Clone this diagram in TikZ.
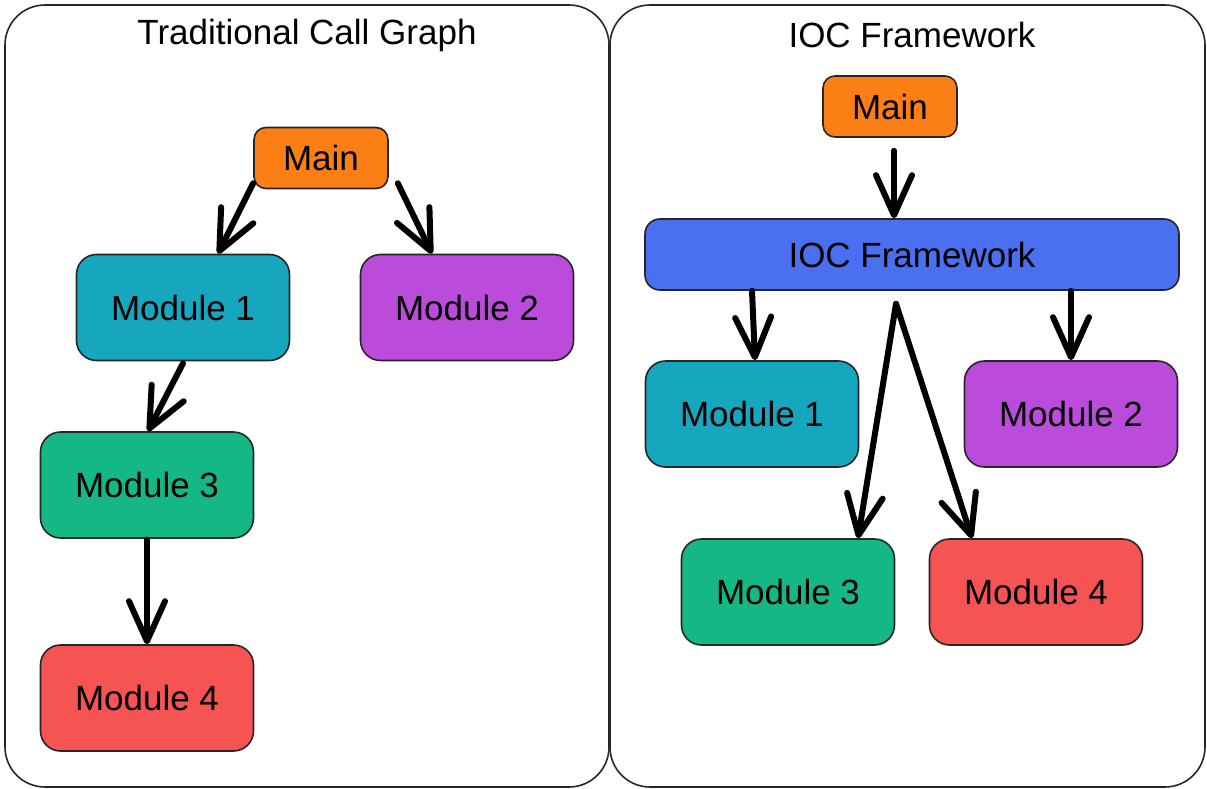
\documentclass[tikz,border=0pt]{standalone}
\usepackage{fontspec}
\setmainfont{Liberation Sans}
\usetikzlibrary{arrows.meta,calc}
\definecolor{cmain}{HTML}{FB7F15}
\definecolor{cmodA}{HTML}{16A7BF}
\definecolor{cmodB}{HTML}{BB4BDB}
\definecolor{cmodC}{HTML}{15B784}
\definecolor{cmodD}{HTML}{F65353}
\definecolor{cioc}{HTML}{4A6FF0}
\begin{document}
\begin{tikzpicture}[x=1pt,y=-1pt,
  panel/.style={draw=black!85,line width=1.6pt,rounded corners=40pt},
  box/.style={draw=black!85,line width=1.6pt,rounded corners=20pt,minimum width=213pt,minimum height=106pt,inner sep=0pt,font=\fontsize{35}{42}\selectfont},
  mainbox/.style={draw=black!85,line width=1.6pt,rounded corners=12pt,fill=cmain,minimum width=134pt,minimum height=61pt,inner sep=0pt,font=\fontsize{35}{42}\selectfont},
  ttl/.style={font=\fontsize{35}{42}\selectfont},
  arr/.style={line width=6pt,line cap=round,-{Straight Barb[length=40pt,width=36pt,line join=round,line cap=round]}}
]
\useasboundingbox (0,0) rectangle (1207,789);
\draw[panel] (5,5) rectangle (609,787);
\draw[panel] (610,5) rectangle (1205,787);
\node[ttl] (t1) at (307,35) {Traditional Call Graph};
\node[ttl] (t2) at (912,35) {IOC Framework};
% left
\node[mainbox] (lmain) at (321,158) {Main};
\node[box,fill=cmodA] (lm1) at (183,307.5) {Module 1};
\node[box,fill=cmodB] (lm2) at (467,307.5) {Module 2};
\node[box,fill=cmodC] (lm3) at (147,485) {Module 3};
\node[box,fill=cmodD] (lm4) at (147,698) {Module 4};
\draw[arr] ([yshift=6pt]lmain.south west) -- ([xshift=35pt]lm1.north);
\draw[arr] ([xshift=9pt,yshift=6pt]lmain.south east) -- ([xshift=-35pt]lm2.north);
\draw[arr] ([yshift=-2pt]lm1.south) -- ([xshift=1pt]lm3.north);
\draw[arr] ([yshift=-1pt]lm3.south) -- (lm4.north);
% right
\node[mainbox] (rmain) at (890,106.5) {Main};
\node[box,fill=cioc,minimum width=534pt,minimum height=71pt,rounded corners=15pt] (ioc) at (912,254.5) {IOC Framework};
\node[box,fill=cmodA] (rm1) at (752,414) {Module 1};
\node[box,fill=cmodB] (rm2) at (1071,414) {Module 2};
\node[box,fill=cmodC] (rm3) at (788,592) {Module 3};
\node[box,fill=cmodD] (rm4) at (1036,592) {Module 4};
\draw[arr] ([xshift=4pt,yshift=-13pt]rmain.south) -- ([xshift=-18pt]ioc.north);
\draw[arr] ([xshift=-160pt]ioc.south) -- ([xshift=3pt]rm1.north);
\draw[arr] ([xshift=159pt]ioc.south) -- (rm2.north);
\draw[arr] ([xshift=-16pt,yshift=-13pt]ioc.south) -- ([xshift=70pt]rm3.north);
\draw[arr] ([xshift=-16pt,yshift=-13pt]ioc.south) -- ([xshift=-64pt]rm4.north);
\end{tikzpicture}
\end{document}
